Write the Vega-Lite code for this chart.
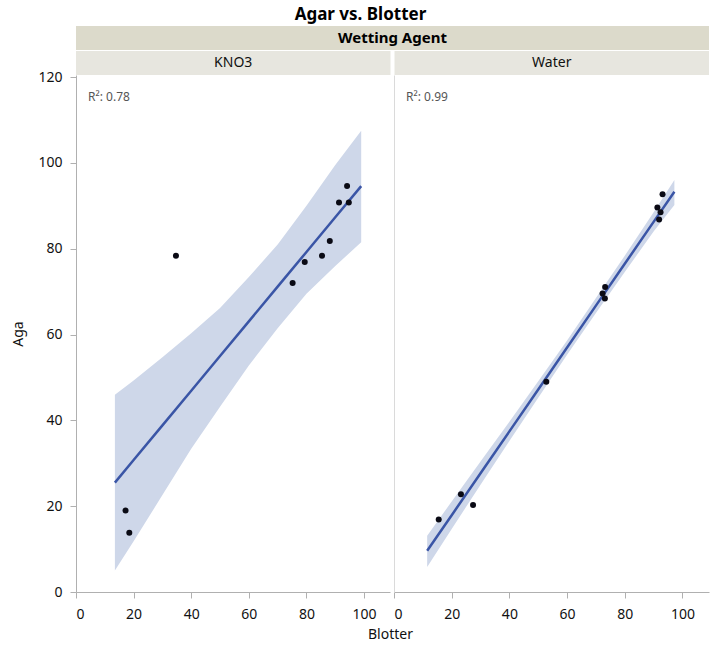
{
  "$schema": "https://vega.github.io/schema/vega-lite/v6.json",
  "title": {"text": "Agar vs. Blotter", "fontSize": 17, "fontWeight": "bold", "color": "#000000", "anchor": "middle", "offset": 2},
  "padding": {"left": 11, "top": 6, "right": 1, "bottom": 0},
  "autosize": {"type": "pad"},
  "spacing": 0,
  "bounds": "flush",
  "datasets": {
    "header": [
      {"level": "top", "label": "Wetting Agent"},
      {"level": "agent", "label": "KNO3"},
      {"level": "agent", "label": "Water"}
    ],
    "points": [
      {"agent": "KNO3", "Blotter": 17.2, "Aga": 19.0},
      {"agent": "KNO3", "Blotter": 18.5, "Aga": 13.8},
      {"agent": "KNO3", "Blotter": 34.7, "Aga": 78.4},
      {"agent": "KNO3", "Blotter": 75.2, "Aga": 72.0},
      {"agent": "KNO3", "Blotter": 79.4, "Aga": 76.9},
      {"agent": "KNO3", "Blotter": 85.4, "Aga": 78.4},
      {"agent": "KNO3", "Blotter": 88.1, "Aga": 81.8},
      {"agent": "KNO3", "Blotter": 91.3, "Aga": 90.8},
      {"agent": "KNO3", "Blotter": 94.7, "Aga": 90.8},
      {"agent": "KNO3", "Blotter": 94.1, "Aga": 94.6},
      {"agent": "Water", "Blotter": 15.5, "Aga": 16.9},
      {"agent": "Water", "Blotter": 23.2, "Aga": 22.8},
      {"agent": "Water", "Blotter": 27.4, "Aga": 20.3},
      {"agent": "Water", "Blotter": 52.8, "Aga": 49.0},
      {"agent": "Water", "Blotter": 72.3, "Aga": 69.6},
      {"agent": "Water", "Blotter": 73.1, "Aga": 68.4},
      {"agent": "Water", "Blotter": 73.2, "Aga": 71.1},
      {"agent": "Water", "Blotter": 91.3, "Aga": 89.6},
      {"agent": "Water", "Blotter": 91.9, "Aga": 86.8},
      {"agent": "Water", "Blotter": 92.4, "Aga": 88.5},
      {"agent": "Water", "Blotter": 93.1, "Aga": 92.7}
    ],
    "fit": [
      {"agent": "KNO3", "Blotter": 13.5, "fit": 25.5, "lo": 5.0, "hi": 46.0},
      {"agent": "KNO3", "Blotter": 20, "fit": 30.75, "lo": 11.8, "hi": 49.3},
      {"agent": "KNO3", "Blotter": 30, "fit": 38.84, "lo": 22.6, "hi": 54.7},
      {"agent": "KNO3", "Blotter": 40, "fit": 46.92, "lo": 33.4, "hi": 60.3},
      {"agent": "KNO3", "Blotter": 50, "fit": 55.0, "lo": 43.2, "hi": 66.2},
      {"agent": "KNO3", "Blotter": 60, "fit": 63.08, "lo": 52.8, "hi": 73.4},
      {"agent": "KNO3", "Blotter": 70, "fit": 71.17, "lo": 61.5, "hi": 81.0},
      {"agent": "KNO3", "Blotter": 80, "fit": 79.25, "lo": 69.5, "hi": 90.0},
      {"agent": "KNO3", "Blotter": 90, "fit": 87.33, "lo": 76.0, "hi": 99.5},
      {"agent": "KNO3", "Blotter": 99, "fit": 94.6, "lo": 81.5, "hi": 107.5},
      {"agent": "Water", "Blotter": 11.5, "fit": 9.6, "lo": 5.8, "hi": 13.1},
      {"agent": "Water", "Blotter": 20, "fit": 17.9, "lo": 14.7, "hi": 21.1},
      {"agent": "Water", "Blotter": 30, "fit": 27.67, "lo": 25.0, "hi": 30.4},
      {"agent": "Water", "Blotter": 40, "fit": 37.43, "lo": 35.2, "hi": 39.7},
      {"agent": "Water", "Blotter": 50, "fit": 47.2, "lo": 45.3, "hi": 49.1},
      {"agent": "Water", "Blotter": 60, "fit": 56.97, "lo": 55.3, "hi": 58.6},
      {"agent": "Water", "Blotter": 70, "fit": 66.74, "lo": 65.0, "hi": 68.5},
      {"agent": "Water", "Blotter": 80, "fit": 76.5, "lo": 74.6, "hi": 78.4},
      {"agent": "Water", "Blotter": 90, "fit": 86.27, "lo": 84.0, "hi": 88.5},
      {"agent": "Water", "Blotter": 97.2, "fit": 93.3, "lo": 90.2, "hi": 96.0}
    ],
    "r2": [
      {"agent": "KNO3", "label": "R²: 0.78"},
      {"agent": "Water", "label": "R²: 0.99"}
    ]
  },
  "vconcat": [
    {
      "width": 633,
      "height": 49,
      "data": {"name": "header"},
      "layer": [
        {
          "transform": [{"filter": "datum.level === 'top'"}],
          "mark": {"type": "rect", "color": "#DCDACB"},
          "encoding": {
            "y": {"field": "level", "type": "nominal", "scale": {"domain": ["top", "agent"], "paddingInner": 0.04, "paddingOuter": 0}, "axis": null}
          }
        },
        {
          "transform": [{"filter": "datum.level === 'agent'"}],
          "mark": {"type": "rect", "color": "#E7E6DF"},
          "encoding": {
            "x": {"field": "label", "type": "nominal", "scale": {"domain": ["KNO3", "Water"], "paddingInner": 0.0126, "paddingOuter": 0}, "axis": null},
            "y": {"field": "level", "type": "nominal", "axis": null}
          }
        },
        {
          "transform": [{"filter": "datum.level === 'top'"}],
          "mark": {"type": "text", "fontSize": 15, "fontWeight": "bold", "color": "#000000"},
          "encoding": {
            "y": {"field": "level", "type": "nominal", "axis": null},
            "text": {"field": "label"}
          }
        },
        {
          "transform": [{"filter": "datum.level === 'agent'"}],
          "mark": {"type": "text", "fontSize": 14, "color": "#111111"},
          "encoding": {
            "x": {"field": "label", "type": "nominal", "axis": null},
            "y": {"field": "level", "type": "nominal", "axis": null},
            "text": {"field": "label"}
          }
        }
      ]
    },
    {
      "hconcat": [
        {
          "width": 314,
          "height": 517,
          "layer": [
            {
              "data": {"name": "fit"},
              "transform": [{"filter": "datum.agent === 'KNO3'"}],
              "mark": {"type": "area", "color": "#CED7E9", "opacity": 1},
              "encoding": {
                "x": {"field": "Blotter", "type": "quantitative", "title": "Blotter",
                  "scale": {"domain": [0, 109], "nice": false, "zero": false},
                  "axis": {"values": [0, 10, 20, 30, 40, 50, 60, 70, 80, 90, 100],
                    "labelExpr": "datum.value % 20 === 0 ? datum.label : ''",
                    "tickSize": {"condition": {"test": "datum.value % 20 === 0", "value": 6}, "value": 4},
                    "labelPadding": 9,
                    "titleAnchor": "end", "titleAlign": "center"}},
                "y": {"field": "lo", "type": "quantitative", "title": "Aga",
                  "scale": {"domain": [0, 120.5], "nice": false},
                  "axis": {"values": [0, 20, 40, 60, 80, 100, 120], "tickSize": 6, "labelPadding": 8, "titlePadding": 12}},
                "y2": {"field": "hi"}
              }
            },
            {
              "data": {"name": "fit"},
              "transform": [{"filter": "datum.agent === 'KNO3'"}],
              "mark": {"type": "line", "color": "#3A55A6", "strokeWidth": 2.5},
              "encoding": {
                "x": {"field": "Blotter", "type": "quantitative", "title": "Blotter"},
                "y": {"field": "fit", "type": "quantitative", "title": "Aga"}
              }
            },
            {
              "data": {"name": "points"},
              "transform": [{"filter": "datum.agent === 'KNO3'"}],
              "mark": {"type": "point", "filled": true, "color": "#0A0A14", "size": 36, "opacity": 1},
              "encoding": {
                "x": {"field": "Blotter", "type": "quantitative", "title": "Blotter"},
                "y": {"field": "Aga", "type": "quantitative", "title": "Aga"}
              }
            },
            {
              "data": {"name": "r2"},
              "transform": [{"filter": "datum.agent === 'KNO3'"}],
              "mark": {"type": "text", "align": "left", "baseline": "middle", "fontSize": 12, "color": "#555555"},
              "encoding": {
                "x": {"datum": 4.2, "type": "quantitative"},
                "y": {"datum": 115.4, "type": "quantitative"},
                "text": {"field": "label"}
              }
            }
          ]
        },
        {
          "width": 315,
          "height": 517,
          "layer": [
            {
              "data": {"name": "fit"},
              "transform": [{"filter": "datum.agent === 'Water'"}],
              "mark": {"type": "area", "color": "#CED7E9", "opacity": 1},
              "encoding": {
                "x": {"field": "Blotter", "type": "quantitative", "title": null,
                  "scale": {"domain": [0, 109.2], "nice": false, "zero": false},
                  "axis": {"values": [0, 10, 20, 30, 40, 50, 60, 70, 80, 90, 100],
                    "labelExpr": "datum.value % 20 === 0 ? datum.label : ''",
                    "tickSize": {"condition": {"test": "datum.value % 20 === 0", "value": 6}, "value": 4},
                    "labelPadding": 9}},
                "y": {"field": "lo", "type": "quantitative", "title": null,
                  "scale": {"domain": [0, 120.5], "nice": false},
                  "axis": {"labels": false, "ticks": false, "domainColor": "#DADADA"}},
                "y2": {"field": "hi"}
              }
            },
            {
              "data": {"name": "fit"},
              "transform": [{"filter": "datum.agent === 'Water'"}],
              "mark": {"type": "line", "color": "#3A55A6", "strokeWidth": 2.5},
              "encoding": {
                "x": {"field": "Blotter", "type": "quantitative", "title": null},
                "y": {"field": "fit", "type": "quantitative", "title": null}
              }
            },
            {
              "data": {"name": "points"},
              "transform": [{"filter": "datum.agent === 'Water'"}],
              "mark": {"type": "point", "filled": true, "color": "#0A0A14", "size": 36, "opacity": 1},
              "encoding": {
                "x": {"field": "Blotter", "type": "quantitative", "title": null},
                "y": {"field": "Aga", "type": "quantitative", "title": null}
              }
            },
            {
              "data": {"name": "r2"},
              "transform": [{"filter": "datum.agent === 'Water'"}],
              "mark": {"type": "text", "align": "left", "baseline": "middle", "fontSize": 12, "color": "#555555"},
              "encoding": {
                "x": {"datum": 4.2, "type": "quantitative"},
                "y": {"datum": 115.4, "type": "quantitative"},
                "text": {"field": "label"}
              }
            }
          ]
        }
      ],
      "spacing": 4,
      "bounds": "flush"
    }
  ],
  "config": {
    "font": "Noto Sans",
    "view": {"stroke": null},
    "axis": {
      "grid": false,
      "domainColor": "#B0B0B0",
      "tickColor": "#B0B0B0",
      "labelColor": "#111111",
      "labelFontSize": 14,
      "labelPadding": 4,
      "titleColor": "#111111",
      "titleFontSize": 14,
      "titleFontWeight": "normal",
      "titlePadding": 6
    }
  }
}
